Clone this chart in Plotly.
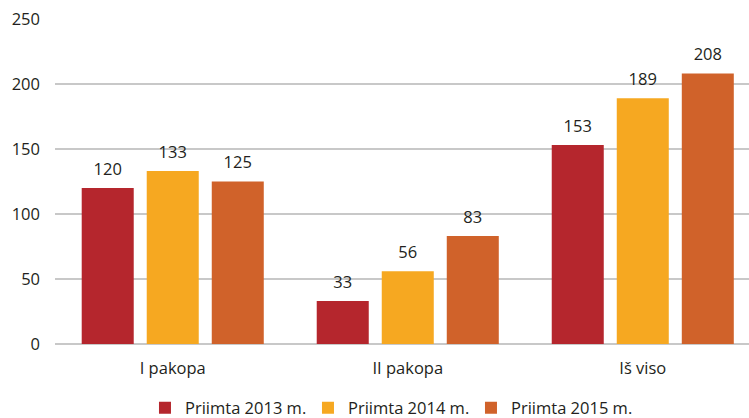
import plotly.graph_objects as go

categories = ["I pakopa", "II pakopa", "Iš viso"]
series_names = ["Priimta 2013 m.", "Priimta 2014 m.", "Priimta 2015 m."]
values_2013 = [120, 33, 153]
values_2014 = [133, 56, 189]
values_2015 = [125, 83, 208]
colors = ["#B5262D", "#F6A821", "#D0622A"]
y_ticks = [0, 50, 100, 150, 200, 250]

FONT = "Open Sans"
TXT = "#231F20"
FS = 16.5

fig = go.Figure()
for name, vals, col in zip(series_names, [values_2013, values_2014, values_2015], colors):
    fig.add_trace(go.Bar(
        x=categories, y=vals, name=name,
        marker=dict(color=col, line=dict(width=0)),
        text=[f"<span style='font-size:{FS}px'>{v}</span><br> " for v in vals],
        textposition="outside",
        textfont=dict(family=FONT, size=6.5, color=TXT),
        constraintext="none",
        cliponaxis=False,
    ))

fig.update_layout(
    width=749, height=418,
    margin=dict(l=55, r=0, t=18.5, b=73.5),
    paper_bgcolor="white", plot_bgcolor="white",
    barmode="group", bargap=0.17, bargroupgap=0.2,
    font=dict(family=FONT, size=FS, color=TXT),
    showlegend=True,
    legend=dict(
        orientation="h", xref="container", yref="container",
        x=0.5200, xanchor="center", y=0.0239, yanchor="middle",
        font=dict(family=FONT, size=FS, color=TXT),
        itemwidth=30, entrywidth=118, entrywidthmode="pixels",
        traceorder="normal",
    ),
    xaxis=dict(
        range=[-0.501, 2.452], showgrid=False, showline=False, zeroline=False,
        ticks="", ticklabelstandoff=12, automargin=False,
        tickfont=dict(family=FONT, size=FS, color=TXT),
    ),
    yaxis=dict(
        range=[0, 250], tickvals=y_ticks, showgrid=True, gridcolor="#C8C8C8",
        gridwidth=1.5, zeroline=True, zerolinecolor="#C8C8C8", zerolinewidth=1.5,
        showline=False, ticks="", ticklabelstandoff=14, automargin=False,
        tickfont=dict(family=FONT, size=FS, color=TXT),
    ),
)

# remove the browser's default 8px body margin so the figure sits at the window origin
fig.write_html(
    "out.html",
    config={"displayModeBar": False},
    post_script="document.body.style.margin='0px';",
)
